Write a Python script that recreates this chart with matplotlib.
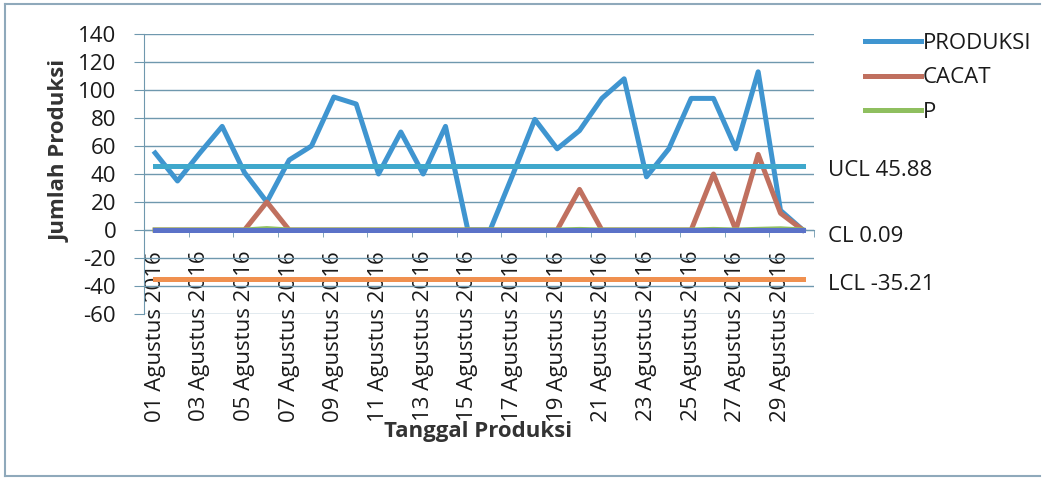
import matplotlib.pyplot as plt
from matplotlib.lines import Line2D

# Data produksi harian Agustus 2016
tanggal = ["%02d Agustus 2016" % d for d in range(1, 31)]
produksi = [55, 35, 55, 74, 41, 20, 50, 60, 95, 90, 40, 70, 40, 74, 0,
            0, 39, 79, 58, 71, 94, 108, 38, 58, 94, 94, 58, 113, 14, 0]
cacat = [0, 0, 0, 0, 0, 20, 0, 0, 0, 0, 0, 0, 0, 0, 0,
         0, 0, 0, 0, 29, 0, 0, 0, 0, 0, 40, 0, 54, 12, 0]
p = [0, 0, 0, 0, 0, 1.0, 0, 0, 0, 0, 0, 0, 0, 0, 0,
     0, 0, 0, 0, 0.41, 0, 0, 0, 0, 0, 0.43, 0, 0.48, 0.86, 0]
ucl = 45.88
cl = 0.09
lcl = -35.21

plt.rcParams['font.family'] = ['Open Sans', 'DejaVu Sans']
plt.rcParams['axes.unicode_minus'] = False

W, H = 1048, 480
fs = 16
txt = '#1a1a1a'
fig = plt.figure(figsize=(W / 100, H / 100), dpi=100)
ax = fig.add_axes([144 / W, 1 - 314 / H, 670 / W, 280 / H])

x = list(range(1, 31))
lw = 3.6
c_prod = '#3f95d0'
c_cacat = '#c0705f'
c_p = '#8fbf5f'

ax.plot(x, produksi, color=c_prod, lw=lw, zorder=3)
ax.plot(x, cacat, color=c_cacat, lw=lw, zorder=3)
ax.plot(x, p, color=c_p, lw=lw, zorder=3)
ax.plot(x, [ucl] * 30, color='#3fa8cc', lw=lw, zorder=4)
ax.plot(x, [cl] * 30, color='#5b72c8', lw=lw, zorder=4)
ax.plot(x, [lcl] * 30, color='#f0904f', lw=lw, zorder=4)

ax.set_xlim(0.5, 30.5)
ax.set_ylim(-60, 140)
ax.set_yticks(range(-60, 141, 20))
ax.grid(axis='y', color='#6f98ae', lw=1.0)
ax.set_axisbelow(True)

for s in ['top', 'right']:
    ax.spines[s].set_visible(False)
ax.spines['left'].set_color('#6f98ae')
ax.spines['bottom'].set_position(('data', 0))
ax.spines['bottom'].set_color('#6f98ae')

ax.tick_params(axis='y', length=7, color='#6f98ae', labelsize=fs, pad=13,
               labelcolor=txt)
ax.set_xticks(x[::2])
ax.set_xticklabels(tanggal[::2], rotation=90)
ax.set_xticks([0.5 + 2 * k for k in range(16)], minor=True)
ax.tick_params(axis='x', which='major', length=0, pad=15, labelsize=fs,
               labelcolor=txt)
ax.tick_params(axis='x', which='minor', length=5, color='#6f98ae')

fig.text(60 / W, 1 - 151 / H, "Jumlah Produksi", rotation=90, fontsize=fs,
         fontweight='bold', ha='center', va='center', color='#333333')
fig.text(478 / W, 1 - 432 / H, "Tanggal Produksi", fontsize=fs,
         fontweight='bold', ha='center', va='center', color='#333333')

fig.text(828 / W, 1 - 170 / H, "UCL 45.88", fontsize=fs, va='center', color=txt)
fig.text(828 / W, 1 - 236 / H, "CL 0.09", fontsize=fs, va='center', color=txt)
fig.text(828 / W, 1 - 285 / H, "LCL -35.21", fontsize=fs, va='center', color=txt)

handles = [Line2D([], [], color=c_prod, lw=lw),
           Line2D([], [], color=c_cacat, lw=lw),
           Line2D([], [], color=c_p, lw=lw)]
fig.legend(handles, ["PRODUKSI", "CACAT", "P"], loc='upper left',
           bbox_to_anchor=(865 / W, 1 - 33 / H), frameon=False, fontsize=fs,
           handlelength=2.5, handletextpad=0.1, labelspacing=0.6,
           borderaxespad=0, borderpad=0, labelcolor=txt)

# bingkai chart
for xs, ys in [([5, 5], [4, 476]), ([5, 1040], [4, 4]), ([5, 1040], [476, 476])]:
    fig.add_artist(Line2D([v / W for v in xs], [1 - v / H for v in ys],
                          color='#8fa9bb', lw=1.5))

fig.savefig("out.png", dpi=100)
